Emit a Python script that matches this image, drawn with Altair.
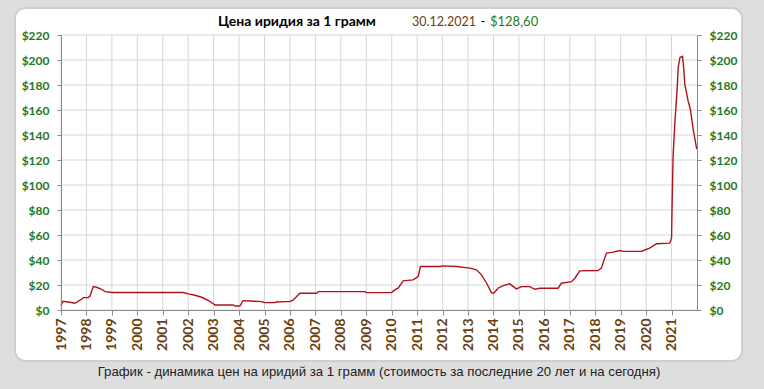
import altair as alt
import pandas as pd

# ---- data ----
years = [1997.0, 1997.08, 1997.4, 1997.55, 1997.8, 1997.88, 1998.07, 1998.14, 1998.27, 1998.4,
         1998.6, 1998.73, 1999.0, 2001.8, 2002.0, 2002.27, 2002.53, 2002.8, 2003.0, 2003.05,
         2003.77, 2003.84, 2004.03, 2004.16, 2004.43, 2004.89, 2005.0, 2005.4, 2005.47, 2005.87,
         2006.0, 2006.13, 2006.39, 2007.05, 2007.11, 2008.94, 2009.01, 2009.99, 2010.12, 2010.25,
         2010.45, 2010.84, 2011.04, 2011.13, 2011.9, 2012.02, 2012.55, 2013.07, 2013.33, 2013.53,
         2013.73, 2013.92, 2014.01, 2014.18, 2014.38, 2014.64, 2014.9, 2015.1, 2015.43, 2015.62,
         2015.82, 2016.54, 2016.67, 2017.07, 2017.2, 2017.39, 2018.11, 2018.24, 2018.44, 2018.7,
         2018.96, 2019.09, 2019.82, 2020.14, 2020.41, 2020.93, 2021.0, 2021.02, 2021.06, 2021.13,
         2021.22, 2021.26, 2021.33, 2021.43, 2021.48, 2021.52, 2021.65, 2021.74, 2021.85, 2021.99]
prices = [3.5, 7.0, 6.0, 5.4, 8.6, 9.9, 9.9, 11.2, 18.7, 18.2,
          16.6, 14.7, 14.0, 14.0, 12.9, 11.8, 10.2, 7.5, 4.8, 4.0,
          4.0, 3.2, 3.2, 7.5, 7.2, 6.7, 5.9, 5.9, 6.4, 6.7,
          6.7, 8.0, 13.4, 13.4, 14.7, 14.7, 13.9, 13.9, 16.1, 17.4,
          23.3, 24.1, 26.7, 34.8, 34.8, 35.3, 34.8, 33.5, 32.1, 28.1,
          21.4, 13.9, 13.4, 17.4, 19.5, 20.9, 16.9, 18.7, 18.7, 16.6,
          17.4, 17.4, 21.4, 22.7, 25.4, 31.3, 31.6, 33.5, 45.5, 46.3,
          47.6, 46.9, 47.0, 49.5, 53.0, 53.5, 57.6, 83.0, 123.0, 150.0,
          176.7, 194.0, 202.0, 203.0, 192.8, 180.7, 167.3, 160.6, 144.6, 128.6]
year_ticks = list(range(1997, 2022))
price_ticks = list(range(0, 221, 20))
title_main = "Цена иридия за 1 грамм"
title_date = "30.12.2021"
title_price = "$" + f"{prices[-1]:.2f}".replace(".", ",")
caption = "График - динамика цен на иридий за 1 грамм (стоимость за последние 20 лет и на сегодня)"

df = pd.DataFrame({"year": years, "price": prices})
one = alt.Data(values=[{}])

W, H = 636, 275
GREEN = "#1d7a1d"
BROWN = "#6b4010"
AXIS_GRAY = "#8a8a8a"
GRID = "#d6d6d6"

xscale = alt.Scale(domain=[1997, 2022], nice=False, zero=False)
yscale = alt.Scale(domain=[0, 220], nice=False)

panel = alt.Chart(one).mark_rect(
    fill="white", cornerRadius=10, stroke="#cfcfcf", strokeWidth=2
).encode(x=alt.value(-46), x2=alt.value(681), y=alt.value(-27), y2=alt.value(326))

vgrid = alt.Chart(pd.DataFrame({"t": year_ticks})).mark_rule(color=GRID, strokeWidth=1).encode(
    x=alt.X("t:Q", scale=xscale, axis=None)
)
hgrid = alt.Chart(pd.DataFrame({"p": price_ticks})).mark_rule(color=GRID, strokeWidth=1).encode(
    y=alt.Y("p:Q", scale=yscale, axis=None)
)

xaxis = alt.Axis(values=year_ticks, format="d", labelAngle=270, labelFont="Lato",
                 labelFontWeight="bold", labelFontSize=14, labelColor=BROWN,
                 domainColor=AXIS_GRAY, tickColor=AXIS_GRAY, tickSize=5, labelPadding=3,
                 grid=False, title=None, zindex=1)

def yaxis(orient):
    return alt.Axis(orient=orient, values=price_ticks, format="$d", labelFont="Lato",
                    labelFontSize=12, labelFontWeight="bold", labelColor=GREEN,
                    domainColor=AXIS_GRAY, tickColor=AXIS_GRAY, tickSize=4, labelPadding=8,
                    grid=False, title=None, zindex=1)

line = alt.Chart(df).mark_line(color="#b0121b", strokeWidth=1.4).encode(
    x=alt.X("year:Q", scale=xscale, axis=xaxis),
    y=alt.Y("price:Q", scale=yscale, axis=yaxis("left")),
)
right = alt.Chart(df).mark_line(opacity=0).encode(
    x=alt.X("year:Q", scale=xscale, axis=None),
    y=alt.Y("price:Q", scale=yscale, axis=yaxis("right")),
)

t1 = alt.Chart(one).mark_text(align="left", baseline="middle", font="Lato", fontSize=14,
                              fontWeight="bold", color="black").encode(
    x=alt.value(157), y=alt.value(-13), text=alt.value(title_main))
t2 = alt.Chart(one).mark_text(align="left", baseline="middle", font="Lato", fontSize=12.5,
                              color=BROWN).encode(
    x=alt.value(351), y=alt.value(-13), text=alt.value(title_date))
t3 = alt.Chart(one).mark_text(align="center", baseline="middle", font="Lato", fontSize=13,
                              color="black").encode(
    x=alt.value(422), y=alt.value(-13), text=alt.value("-"))
t4 = alt.Chart(one).mark_text(align="left", baseline="middle", font="Lato", fontSize=13,
                              color=GREEN).encode(
    x=alt.value(429), y=alt.value(-13), text=alt.value(title_price))
cap = alt.Chart(one).mark_text(align="center", baseline="middle", font="Liberation Sans",
                               fontSize=13.2, color="#222222").encode(
    x=alt.value(318), y=alt.value(337), text=alt.value(caption))

chart = alt.layer(panel, vgrid, hgrid, line, right, t1, t2, t3, t4, cap).resolve_axis(
    x="independent", y="independent"
).properties(
    width=W, height=H,
    autosize=alt.AutoSizeParams(type="none"),
    padding={"left": 61, "top": 35, "right": 67, "bottom": 79},
    background="#dedede",
).configure_view(stroke=None)

chart.save("out.html", embed_options={"renderer": "svg", "actions": False})
